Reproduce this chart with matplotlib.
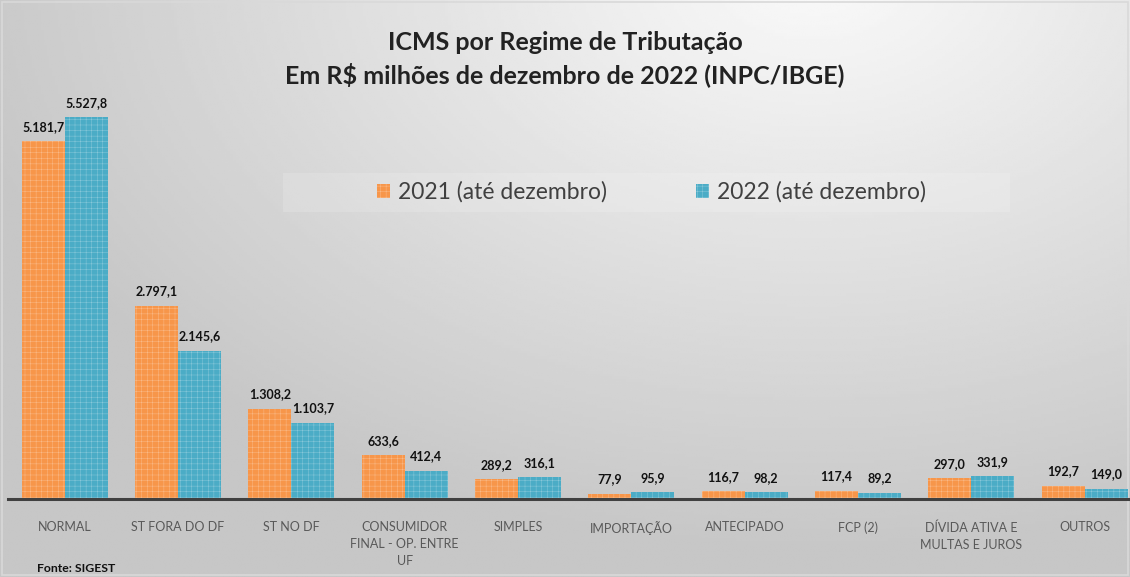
import matplotlib.pyplot as plt
import numpy as np

plt.rcParams["font.family"] = ["Lato", "DejaVu Sans"]
plt.rcParams["hatch.color"] = "#ffffff66"
plt.rcParams["hatch.linewidth"] = 0.3

categories = [
    "NORMAL", "ST FORA DO DF", "ST NO DF", "CONSUMIDOR\nFINAL - OP. ENTRE\nUF",
    "SIMPLES", "IMPORTAÇÃO", "ANTECIPADO", "FCP (2)",
    "DÍVIDA ATIVA E\nMULTAS E JUROS", "OUTROS",
]
v2021 = [5181.7, 2797.1, 1308.2, 633.6, 289.2, 77.9, 116.7, 117.4, 297.0, 192.7]
v2022 = [5527.8, 2145.6, 1103.7, 412.4, 316.1, 95.9, 98.2, 89.2, 331.9, 149.0]
series = ["2021 (até dezembro)", "2022 (até dezembro)"]
colors = ["#f7964a", "#4bacc6"]


def fmt(v):
    s = f"{v:,.1f}"
    return s.replace(",", "X").replace(".", ",").replace("X", ".")


W, H = 1130, 577
fig = plt.figure(figsize=(W / 100, H / 100), dpi=100)

# gradient background
bg = fig.add_axes([0, 0, 1, 1])
yy, xx = np.mgrid[0:1:200j, 0:1:400j]
d = np.sqrt(((xx - 0.72) * 1.3) ** 2 + (yy - 1.05) ** 2)
shade = np.clip(0.98 - 0.2 * d, 0.78, 0.98)
bg.imshow(shade, cmap="gray", vmin=0, vmax=1, origin="lower", extent=[0, 1, 0, 1], aspect="auto")
bg.set_xlim(0, 1)
bg.set_ylim(0, 1)
bg.axis("off")
bg.add_patch(plt.Rectangle((0.002, 0.003), 0.996, 0.994, fill=False, edgecolor="#d9d9d9", lw=1.2))
# faint legend box
bg.add_patch(plt.Rectangle((283 / W, 1 - 212 / H), (1010 - 283) / W, 39 / H,
                           facecolor="#ffffff", alpha=0.15, edgecolor="none"))

ax = fig.add_axes([8 / W, 1 - 499 / H, (1130 - 8) / W, (499 - 10) / H])
ax.patch.set_alpha(0)
x = np.arange(len(categories))
bw = 0.38
b1 = ax.bar(x - bw / 2, v2021, bw, color=colors[0], hatch="+++", label=series[0])
b2 = ax.bar(x + bw / 2, v2022, bw, color=colors[1], hatch="+++", label=series[1])
for bars, vals in [(b1, v2021), (b2, v2022)]:
    for bar, v in zip(bars, vals):
        ax.annotate(fmt(v), (bar.get_x() + bar.get_width() / 2, v), xytext=(0, 6),
                    textcoords="offset points", ha="center", va="bottom",
                    fontsize=9, fontweight="bold", color="#111111")

ax.set_xlim(-0.5, 9.4)
ax.set_ylim(0, 7077)
ax.set_yticks([])
ax.set_xticks(x)
ax.set_xticklabels(categories, fontsize=9, color="#595959", linespacing=1.5, va="top")
ax.tick_params(axis="x", length=0, pad=16)
for s in ["top", "right", "left"]:
    ax.spines[s].set_visible(False)
ax.spines["bottom"].set_color("#404040")
ax.spines["bottom"].set_linewidth(2.2)

leg = ax.legend(loc="center left", ncol=2, fontsize=16.5, frameon=False,
                handlelength=0.55, handleheight=0.55, columnspacing=3.9,
                handletextpad=0.35, borderpad=0)
leg.set_bbox_to_anchor((366 / W, 1 - 192 / H), transform=fig.transFigure)
for t in leg.get_texts():
    t.set_color("#404040")

fig.text(0.5, 1 - 42 / H, "ICMS por Regime de Tributação", ha="center", va="center",
         fontsize=18, fontweight="bold", color="#222222")
fig.text(0.5, 1 - 75 / H, "Em R$ milhões de dezembro de 2022 (INPC/IBGE)", ha="center", va="center",
         fontsize=18, fontweight="bold", color="#222222")
fig.text(37 / W, 1 - 568 / H, "Fonte: SIGEST", ha="left", va="center", fontsize=8.8,
         fontweight="bold", color="#111111")

fig.savefig("out.png", dpi=100)
